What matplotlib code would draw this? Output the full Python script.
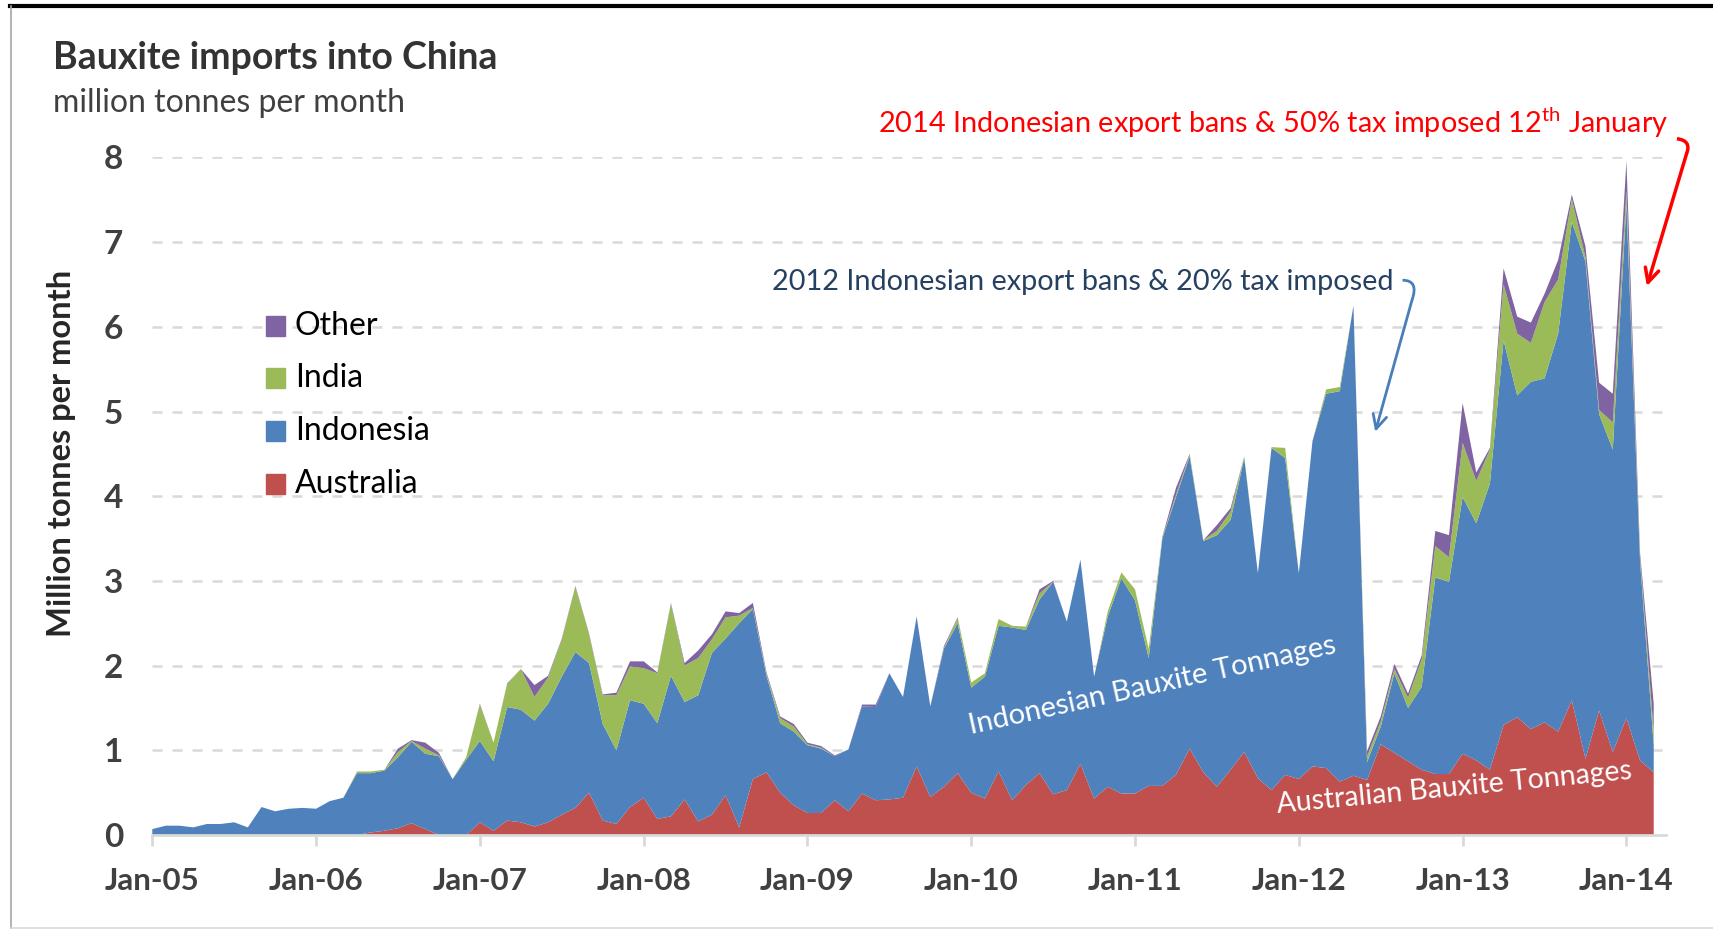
import numpy as np
import matplotlib
matplotlib.use("Agg")
import matplotlib.pyplot as plt
from matplotlib.patches import Rectangle, PathPatch
from matplotlib.path import Path
from matplotlib.lines import Line2D

plt.rcParams['font.family'] = ['Lato', 'DejaVu Sans']
plt.rcParams['mathtext.fontset'] = 'custom'
plt.rcParams['mathtext.rm'] = 'Lato'

# monthly imports, million tonnes, Jan-05 .. Mar-14
australia = [
    0, 0, 0, 0, 0, 0, 0, 0, 0, 0, 0, 0,
    0, 0, 0, 0, 0.03, 0.05, 0.08, 0.14, 0.07, 0, 0, 0,
    0.15, 0.05, 0.17, 0.15, 0.10, 0.15, 0.24, 0.32, 0.50, 0.17, 0.13, 0.33,
    0.44, 0.19, 0.22, 0.42, 0.16, 0.24, 0.47, 0.09, 0.66, 0.74, 0.50, 0.35,
    0.26, 0.26, 0.41, 0.28, 0.49, 0.41, 0.42, 0.44, 0.81, 0.45, 0.57, 0.73,
    0.50, 0.43, 0.75, 0.41, 0.59, 0.73, 0.48, 0.53, 0.84, 0.43, 0.57, 0.49,
    0.49, 0.58, 0.58, 0.71, 1.02, 0.74, 0.57, 0.77, 0.98, 0.67, 0.53, 0.71,
    0.66, 0.81, 0.79, 0.63, 0.70, 0.65, 1.07, 0.97, 0.87, 0.77, 0.72, 0.72,
    0.96, 0.88, 0.77, 1.30, 1.39, 1.25, 1.33, 1.22, 1.59, 0.90, 1.47, 0.98,
    1.38, 0.88, 0.74]
indonesia = [
    0.07, 0.11, 0.11, 0.09, 0.13, 0.13, 0.15, 0.09, 0.33, 0.28, 0.31, 0.32,
    0.31, 0.40, 0.44, 0.73, 0.70, 0.71, 0.84, 0.96, 0.89, 0.93, 0.66, 0.89,
    0.96, 0.82, 1.34, 1.33, 1.25, 1.40, 1.63, 1.84, 1.53, 1.14, 0.87, 1.26,
    1.11, 1.13, 1.66, 1.15, 1.49, 1.91, 1.85, 2.41, 2.01, 1.14, 0.82, 0.87,
    0.80, 0.76, 0.52, 0.73, 1.03, 1.10, 1.49, 1.19, 1.77, 1.07, 1.63, 1.77,
    1.24, 1.44, 1.72, 2.04, 1.83, 2.05, 2.51, 1.99, 2.41, 1.44, 2.01, 2.54,
    2.28, 1.51, 2.92, 3.28, 3.45, 2.73, 2.97, 2.95, 3.47, 2.42, 4.04, 3.74,
    2.43, 3.84, 4.42, 4.61, 5.55, 0.21, 0.21, 0.94, 0.63, 0.98, 2.32, 2.27,
    3.03, 2.80, 3.38, 4.54, 3.80, 4.10, 4.06, 4.70, 5.65, 5.87, 3.50, 3.57,
    6.07, 2.35, 0.32]
india = [
    0, 0, 0, 0, 0, 0, 0, 0, 0, 0, 0, 0,
    0, 0, 0, 0.02, 0.02, 0.01, 0.06, 0.01, 0.06, 0.01, 0, 0.03,
    0.43, 0.22, 0.27, 0.48, 0.28, 0.31, 0.44, 0.77, 0.34, 0.34, 0.65, 0.40,
    0.42, 0.59, 0.85, 0.43, 0.44, 0.16, 0.25, 0.09, 0.01, 0.02, 0.06, 0.06,
    0.01, 0.01, 0, 0, 0, 0, 0, 0, 0, 0, 0.01, 0.06,
    0.06, 0.04, 0.08, 0.02, 0.04, 0.07, 0, 0, 0, 0, 0.06, 0.07,
    0.13, 0.11, 0.01, 0.03, 0.02, 0.01, 0.05, 0.10, 0.02, 0, 0.01, 0.12,
    0, 0, 0.05, 0.05, 0, 0.07, 0.06, 0.05, 0.12, 0.32, 0.37, 0.29,
    0.64, 0.50, 0.40, 0.66, 0.73, 0.46, 0.90, 0.64, 0.27, 0.05, 0.05, 0.32,
    0.16, 0.05, 0.16]
other = [
    0, 0, 0, 0, 0, 0, 0, 0, 0, 0, 0, 0,
    0, 0, 0, 0, 0, 0, 0.04, 0.01, 0.07, 0.03, 0, 0,
    0.01, 0, 0.01, 0, 0.14, 0.02, 0.01, 0.01, 0.01, 0.01, 0.03, 0.06,
    0.08, 0.01, 0.01, 0.03, 0.09, 0.06, 0.07, 0.03, 0.06, 0.02, 0.02, 0.03,
    0.02, 0.02, 0.01, 0, 0.02, 0.03, 0, 0, 0, 0, 0.02, 0.01,
    0, 0, 0, 0, 0, 0.05, 0.01, 0, 0, 0, 0, 0,
    0, 0, 0.01, 0.08, 0.01, 0, 0.07, 0.04, 0, 0, 0, 0,
    0, 0, 0, 0, 0, 0.06, 0.06, 0.06, 0.05, 0.05, 0.18, 0.26,
    0.47, 0.10, 0.02, 0.19, 0.20, 0.24, 0.10, 0.23, 0.05, 0.13, 0.32, 0.34,
    0.35, 0.05, 0.33]

series_names = ['Australia', 'Indonesia', 'India', 'Other']
colors = ['#C0504D', '#4F81BD', '#9BBB59', '#8064A2']
year_labels = ['Jan-05', 'Jan-06', 'Jan-07', 'Jan-08', 'Jan-09',
               'Jan-10', 'Jan-11', 'Jan-12', 'Jan-13', 'Jan-14']

W, H = 1713, 931


def fx(px):
    return px / W


def fy(py):
    return 1 - py / H


fig = plt.figure(figsize=(W / 100, H / 100), dpi=100)
ax = fig.add_axes([fx(152.3), fy(835), (1666 - 152.3) / W, (835 - 157.4) / H])

months = np.arange(len(australia))
ax.stackplot(months, australia, indonesia, india, other,
             colors=colors, linewidth=0)

ax.set_xlim(0, 110.9)
ax.set_ylim(0, 8)
ax.set_yticks(range(0, 9))
ax.set_xticks(np.arange(0, 109, 12))
ax.set_xticklabels(year_labels)

for v in range(1, 9):
    ax.axhline(v, color='#D9D9D9', lw=1.8, ls=(0, (4, 4)), zorder=0)

for s in ['top', 'right', 'left']:
    ax.spines[s].set_visible(False)
ax.spines['bottom'].set_color('#D9D9D9')
ax.spines['bottom'].set_linewidth(2)

ax.tick_params(axis='x', length=8, width=2, color='#D9D9D9', pad=15,
               labelsize=22.5, labelcolor='#404040')
ax.tick_params(axis='y', length=0, pad=21, labelsize=24, labelcolor='#404040')
for lab in ax.get_xticklabels() + ax.get_yticklabels():
    lab.set_fontweight('bold')

# titles
fig.text(fx(53), fy(69), 'Bauxite imports into China', fontsize=27,
         fontweight='bold', color='#333333', va='baseline')
fig.text(fx(53), fy(112), 'million tonnes per month', fontsize=23,
         color='#404040', va='baseline')
fig.text(fx(62), fy(453), 'Million tonnes per month', fontsize=23.5,
         fontweight='bold', color='#262626', rotation=90,
         ha='center', va='center')

# legend drawn by hand (top entry first)
leg_rows = [326, 378, 431, 484]
for name, col, yy in zip(series_names[::-1], colors[::-1], leg_rows):
    fig.add_artist(Rectangle((fx(266), fy(yy + 10)), 19 / W, 20 / H,
                             transform=fig.transFigure, color=col))
    fig.text(fx(295), fy(yy), name, fontsize=23, color='black', va='center')

# in-chart labels
ax.text(73.3, 1.76, 'Indonesian Bauxite Tonnages', color='white',
        fontsize=21, rotation=12.5, ha='center', va='center',
        rotation_mode='anchor')
ax.text(95.4, 0.56, 'Australian Bauxite Tonnages', color='white',
        fontsize=20.5, rotation=5.5, ha='center', va='center',
        rotation_mode='anchor')

# 2012 annotation
blue_c = '#254061'
ax.text(45.4, 6.53, '2012 Indonesian export bans & 20% tax imposed',
        color=blue_c, fontsize=20.8, va='center', ha='left')
hook = Path([(91.6, 6.55), (92.8, 6.55), (92.3, 6.32)],
            [Path.MOVETO, Path.CURVE3, Path.CURVE3])
ax.add_patch(PathPatch(hook, fill=False, ec='#4A7EBB', lw=2, clip_on=False))
ax.annotate('', xy=(89.6, 4.76), xytext=(92.3, 6.32),
            arrowprops=dict(arrowstyle='->', color='#4A7EBB', lw=2,
                            shrinkA=0, shrinkB=0, mutation_scale=25))

# 2014 annotation
ax.text(111.1, 8.41,
        r'2014 Indonesian export bans & 50% tax imposed 12$^{\mathrm{th}}$ January',
        color='#FF0000', fontsize=20.8, va='center', ha='right', clip_on=False)
hook2 = Path([(111.7, 8.22), (112.8, 8.2), (112.4, 8.04)],
             [Path.MOVETO, Path.CURVE3, Path.CURVE3])
ax.add_patch(PathPatch(hook2, fill=False, ec='#FF0000', lw=2.5, clip_on=False))
ax.annotate('', xy=(109.5, 6.48), xytext=(112.4, 8.04),
            arrowprops=dict(arrowstyle='->', color='#FF0000', lw=2.5,
                            shrinkA=0, shrinkB=0, mutation_scale=25),
            annotation_clip=False)

# frame around the picture
fig.add_artist(Line2D([fx(10), 1], [fy(6), fy(6)], color='black', lw=3,
                      transform=fig.transFigure))
fig.add_artist(Line2D([fx(11), fx(11)], [fy(6), fy(928)], color='#A6A6A6',
                      lw=1.2, transform=fig.transFigure))
fig.add_artist(Line2D([fx(11), 1], [fy(928), fy(928)], color='#D9D9D9',
                      lw=1.2, transform=fig.transFigure))

fig.savefig('out.png', dpi=100)
